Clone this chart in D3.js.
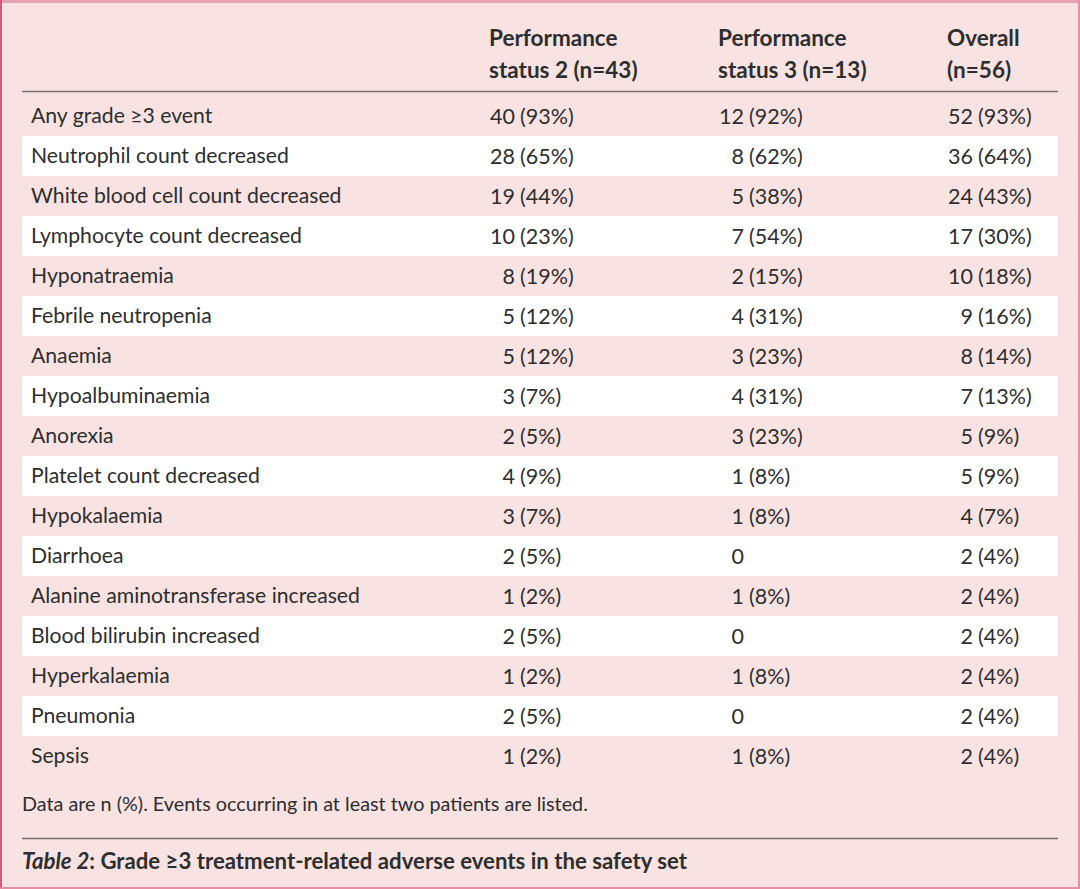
<!DOCTYPE html>
<html>
<head>
<meta charset="utf-8">
<script src="https://cdn.jsdelivr.net/npm/d3@7"></script>
<style>
  html, body { margin: 0; padding: 0; background: #fff; }
  svg { display: block; }
</style>
</head>
<body>
<div id="chart"></div>
<script>
// Table data
const events = [
  "Any grade \u22653 event",
  "Neutrophil count decreased",
  "White blood cell count decreased",
  "Lymphocyte count decreased",
  "Hyponatraemia",
  "Febrile neutropenia",
  "Anaemia",
  "Hypoalbuminaemia",
  "Anorexia",
  "Platelet count decreased",
  "Hypokalaemia",
  "Diarrhoea",
  "Alanine aminotransferase increased",
  "Blood bilirubin increased",
  "Hyperkalaemia",
  "Pneumonia",
  "Sepsis"
];
const ps2N   = [40, 28, 19, 10, 8, 5, 5, 3, 2, 4, 3, 2, 1, 2, 1, 2, 1];
const ps2Pct = [93, 65, 44, 23, 19, 12, 12, 7, 5, 9, 7, 5, 2, 5, 2, 5, 2];
const ps3N   = [12, 8, 5, 7, 2, 4, 3, 4, 3, 1, 1, 0, 1, 0, 1, 0, 1];
const ps3Pct = [92, 62, 38, 54, 15, 31, 23, 31, 23, 8, 8, null, 8, null, 8, null, 8];
const allN   = [52, 36, 24, 17, 10, 9, 8, 7, 5, 5, 4, 2, 2, 2, 2, 2, 2];
const allPct = [93, 64, 43, 30, 18, 16, 14, 13, 9, 9, 7, 4, 4, 4, 4, 4, 4];

const columns = [
  { line1: "Performance", line2: "status 2 (n=43)", n: ps2N, pct: ps2Pct },
  { line1: "Performance", line2: "status 3 (n=13)", n: ps3N, pct: ps3Pct },
  { line1: "Overall",     line2: "(n=56)",          n: allN, pct: allPct }
];
const footnote = "Data are n (%). Events occurring in at least two patients are listed.";
const captionLabel = "Table 2";
const captionText = ": Grade \u22653 treatment-related adverse events in the safety set";

const width = 1080, height = 889;
const font = "Lato, 'Open Sans', sans-serif";
const ink = "#2e2e2e";
const pink = "#f8e3e2";

const svg = d3.select("#chart").append("svg")
  .attr("width", width)
  .attr("height", height);

// panel background + borders
svg.append("rect").attr("x", 0).attr("y", 0).attr("width", width).attr("height", height).attr("fill", pink);
svg.append("rect").attr("x", 0).attr("y", 0).attr("width", width).attr("height", 3).attr("fill", "#e6a2b4");
svg.append("rect").attr("x", 0).attr("y", 0).attr("width", 2).attr("height", height).attr("fill", "#d9577d");
svg.append("rect").attr("x", width - 2).attr("y", 0).attr("width", 2).attr("height", height).attr("fill", "#e690a8");
svg.append("rect").attr("x", 0).attr("y", height - 2).attr("width", width).attr("height", 2).attr("fill", "#e690a8");

const left = 22, right = 1058;

// rows
const y = d3.scaleBand()
  .domain(d3.range(events.length))
  .range([96, 96 + 40 * events.length])
  .padding(0);

// column positions (left edge of header / two-digit numbers)
const colX = [489, 718, 947];
const digitW = 13;

const rows = svg.append("g").selectAll("g")
  .data(events)
  .join("g")
  .attr("transform", (d, i) => `translate(0,${y(i)})`);

rows.append("rect")
  .attr("x", left)
  .attr("width", right - left)
  .attr("height", y.bandwidth())
  .attr("fill", (d, i) => i % 2 === 1 ? "#ffffff" : pink);

rows.append("text")
  .attr("x", 31)
  .attr("y", y.bandwidth() / 2)
  .attr("dy", "0.35em")
  .attr("font-family", font)
  .attr("font-size", 21.2)
  .attr("fill", ink)
  .text(d => d);

columns.forEach((col, c) => {
  // count, right-aligned on the units digit
  rows.append("text")
    .attr("x", colX[c] + digitW * 2)
    .attr("y", y.bandwidth() / 2)
    .attr("dy", "0.35em")
    .attr("text-anchor", "end")
    .attr("font-family", font)
    .attr("font-size", 21.5)
    .attr("fill", ink)
    .text((d, i) => col.n[i]);
  // percentage
  rows.append("text")
    .attr("x", colX[c] + digitW * 2 + 5)
    .attr("y", y.bandwidth() / 2)
    .attr("dy", "0.35em")
    .attr("font-family", font)
    .attr("font-size", 21.5)
    .attr("fill", ink)
    .text((d, i) => col.pct[i] == null ? "" : `(${col.pct[i]}%)`);
});

// header
const header = svg.append("g");
columns.forEach((col, c) => {
  header.append("text")
    .attr("x", colX[c]).attr("y", 46)
    .attr("font-family", font).attr("font-size", 22.5).attr("font-weight", 700)
    .attr("fill", ink).text(col.line1);
  header.append("text")
    .attr("x", colX[c]).attr("y", 78)
    .attr("font-family", font).attr("font-size", 22.5).attr("font-weight", 700)
    .attr("fill", ink).text(col.line2);
});

svg.append("line")
  .attr("x1", left).attr("x2", right)
  .attr("y1", 91.5).attr("y2", 91.5)
  .attr("stroke", "#7a7272").attr("stroke-width", 1.5);

// footnote
svg.append("text")
  .attr("x", left).attr("y", 811)
  .attr("font-family", font).attr("font-size", 19.8)
  .attr("fill", ink).text(footnote);

svg.append("line")
  .attr("x1", left).attr("x2", right)
  .attr("y1", 838.5).attr("y2", 838.5)
  .attr("stroke", "#7a7272").attr("stroke-width", 1.5);

// caption
const cap = svg.append("text")
  .attr("x", left).attr("y", 869)
  .attr("font-family", font).attr("font-size", 22.2).attr("font-weight", 700)
  .attr("fill", ink);
cap.append("tspan").attr("font-style", "italic").text(captionLabel);
cap.append("tspan").text(captionText);
</script>
</body>
</html>
